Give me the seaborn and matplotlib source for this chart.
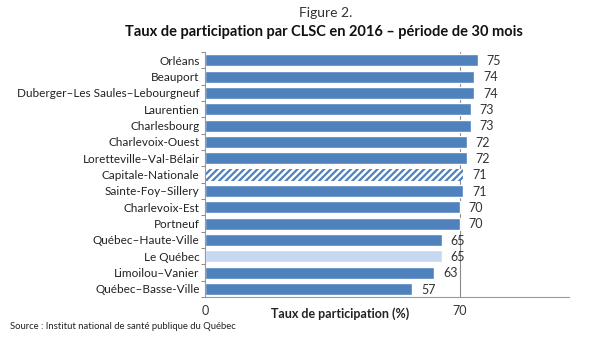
import matplotlib
matplotlib.use("Agg")
import matplotlib.pyplot as plt
import seaborn as sns
import pandas as pd
import numpy as np

categories = ["Orléans", "Beauport", "Duberger–Les Saules–Lebourgneuf", "Laurentien",
              "Charlesbourg", "Charlevoix-Ouest", "Loretteville–Val-Bélair",
              "Capitale-Nationale", "Sainte-Foy–Sillery", "Charlevoix-Est", "Portneuf",
              "Québec–Haute-Ville", "Le Québec", "Limoilou–Vanier", "Québec–Basse-Ville"]
values = [75, 74, 74, 73, 73, 72, 72, 71, 71, 70, 70, 65, 65, 63, 57]
value_labels = ["75", "74", "74", "73", "73", "72", "72", "71", "71", "70", "70", "65", "65", "63", "57"]
x_ticks = [0, 70]

sns.set_theme(style="white")
plt.rcParams['font.family'] = ['Lato', 'DejaVu Sans']
plt.rcParams['hatch.linewidth'] = 1.6

df = pd.DataFrame({"cat": categories, "val": values})
blue = "#4F81BD"
light = "#C6D9F1"
palette = {c: (light if c == "Le Québec" else blue) for c in categories}

fig = plt.figure(figsize=(6, 3.38), dpi=100)
ax = fig.add_axes([0.342, 0.121, 0.606, 0.725])
ax.axvline(70, color="#8a8a8a", lw=0.8, zorder=0.5)
sns.barplot(data=df, x="val", y="cat", hue="cat", palette=palette, dodge=False,
            legend=False, width=0.74, ax=ax, saturation=1, zorder=2)

for p in ax.patches:
    yc = p.get_y() + p.get_height() / 2
    idx = int(round(yc))
    if 0 <= idx < len(categories) and categories[idx] == "Capitale-Nationale":
        p.set_facecolor("white")
        p.set_edgecolor(blue)
        p.set_hatch("/////")
        p.set_linewidth(0)

ax.set_xlim(0, 100)
ax.set_ylim(len(categories) - 0.5, -0.5)
ax.set_xticks(x_ticks)
ax.set_xticklabels([str(t) for t in x_ticks], fontsize=9, color="#333333")
ax.tick_params(axis='x', length=0, pad=6)
ax.tick_params(axis='y', length=0, labelsize=8.5, labelcolor="#222222", pad=4)
ax.set_yticks(np.arange(-0.5, len(categories), 1), minor=True)
ax.tick_params(axis='y', which='minor', length=3, color="#888888", width=0.7, direction="out", left=True)
ax.set_xlabel("")
ax.set_ylabel("")
ax.text(37, -0.066, "Taux de participation (%)", transform=ax.get_xaxis_transform(),
        ha="center", va="center", fontsize=9, fontweight="bold", color="#222222")

for s in ["top", "right"]:
    ax.spines[s].set_visible(False)
for s in ["left", "bottom"]:
    ax.spines[s].set_color("#999999")
    ax.spines[s].set_linewidth(0.8)

for i, (v, lab) in enumerate(zip(values, value_labels)):
    ax.text(v + 2.4, i + 0.05, lab, va="center", ha="left", fontsize=9, color="#333333")

fig.text(0.542, 0.962, "Figure 2.", ha="center", va="center", fontsize=10, color="#333333")
fig.text(0.54, 0.905, "Taux de participation par CLSC en 2016 – période de 30 mois",
         ha="center", va="center", fontsize=10.5, fontweight="bold", color="#111111")
fig.text(0.017, 0.033, "Source : Institut national de santé publique du Québec",
         ha="left", va="center", fontsize=6.8, color="#222222")

fig.savefig("out.png", dpi=100, facecolor="white")
